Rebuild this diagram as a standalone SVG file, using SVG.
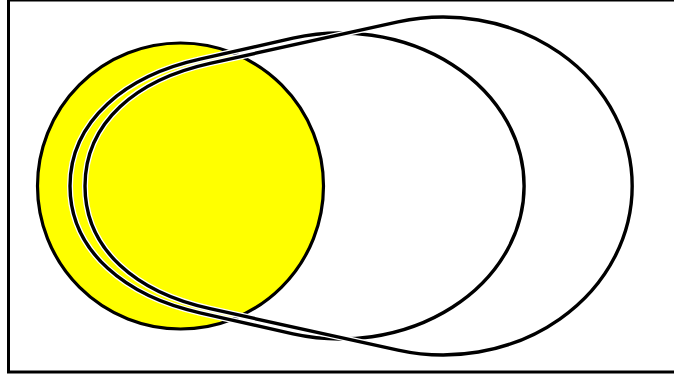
<svg xmlns="http://www.w3.org/2000/svg" xmlns:xlink="http://www.w3.org/1999/xlink" width="674" height="378" viewBox="0 0 674 378">
<style>
.frame{fill:#fff;stroke:#000;stroke-width:3}
.sun{fill:#ffff00;stroke:#000;stroke-width:3.2}
.halo{fill:none;stroke:#fff;stroke-width:6;stroke-linejoin:round}
.line{fill:none;stroke:#000;stroke-width:3.4;stroke-linejoin:round}
</style>
<defs>
<path id="eggS" d="M 70,186 C 70,120 126.7,75.3 200,59.2 L 293,38.1 A 184 153 0 1 1 293,333.9 L 200,312.8 C 126.7,296.7 70,252 70,186 Z"/>
<path id="eggB" d="M 85,186 C 85,122 136.7,79.4 210,63.3 L 398,21.9 A 189 169 0 1 1 398,350.1 L 210,308.7 C 136.7,292.6 85,250 85,186 Z"/>
</defs>
<rect id="frame" class="frame" x="8.5" y="0" width="680" height="372"/>
<g id="circle">
<circle class="sun" cx="180.5" cy="186" r="143"/>
</g>
<g id="shape-small">
<use xlink:href="#eggS" class="halo"/>
<use xlink:href="#eggS" class="line"/>
</g>
<g id="shape-large">
<use xlink:href="#eggB" class="halo"/>
<use xlink:href="#eggB" class="line"/>
</g>
</svg>
